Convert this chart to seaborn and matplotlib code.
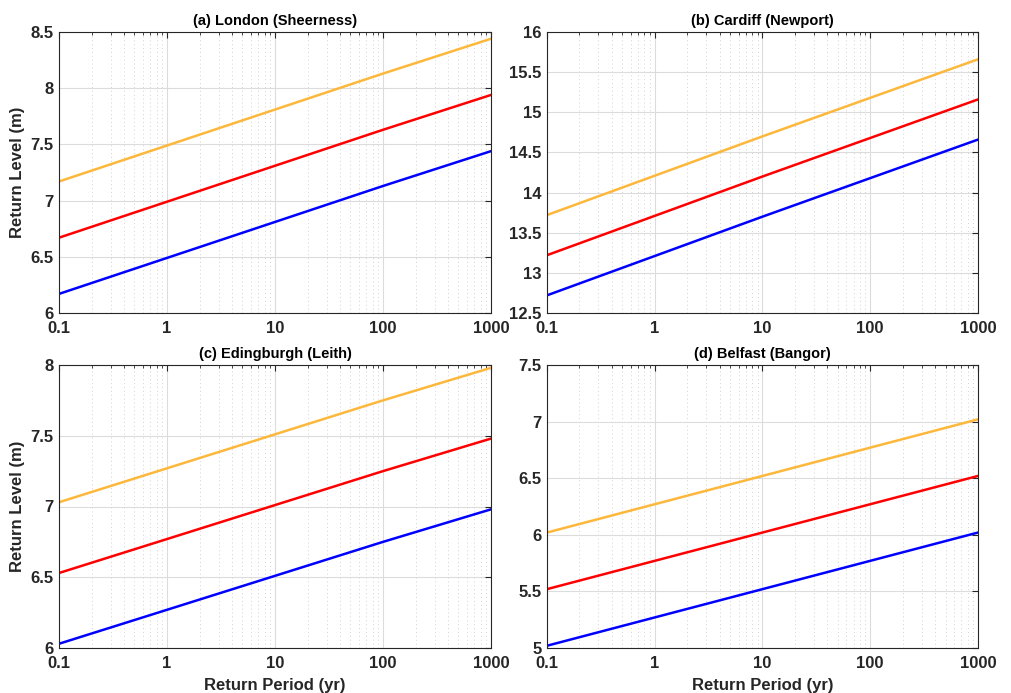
import numpy as np
import pandas as pd
import matplotlib
matplotlib.use("Agg")
import matplotlib.pyplot as plt
import matplotlib.ticker as mticker
import seaborn as sns

# ---- data ----
return_period = [0.1, 1, 10, 100, 1000]

titles = ["(a) London (Sheerness)", "(b) Cardiff (Newport)",
          "(c) Edingburgh (Leith)", "(d) Belfast (Bangor)"]

london_blue = [6.17, 6.49, 6.81, 7.13, 7.44]
london_red = [6.67, 6.99, 7.31, 7.63, 7.94]
london_orange = [7.17, 7.49, 7.81, 8.13, 8.44]

cardiff_blue = [12.72, 13.21, 13.70, 14.18, 14.66]
cardiff_red = [13.22, 13.71, 14.20, 14.68, 15.16]
cardiff_orange = [13.72, 14.21, 14.70, 15.18, 15.66]

edinburgh_blue = [6.03, 6.27, 6.51, 6.75, 6.98]
edinburgh_red = [6.53, 6.77, 7.01, 7.25, 7.48]
edinburgh_orange = [7.03, 7.27, 7.51, 7.75, 7.98]

belfast_blue = [5.02, 5.27, 5.52, 5.77, 6.02]
belfast_red = [5.52, 5.77, 6.02, 6.27, 6.52]
belfast_orange = [6.02, 6.27, 6.52, 6.77, 7.02]

series = [
    (london_blue, london_red, london_orange),
    (cardiff_blue, cardiff_red, cardiff_orange),
    (edinburgh_blue, edinburgh_red, edinburgh_orange),
    (belfast_blue, belfast_red, belfast_orange),
]
ylims = [(6, 8.5), (12.5, 16), (6, 8), (5, 7.5)]
yticks = [
    [6, 6.5, 7, 7.5, 8, 8.5],
    [12.5, 13, 13.5, 14, 14.5, 15, 15.5, 16],
    [6, 6.5, 7, 7.5, 8],
    [5, 5.5, 6, 6.5, 7, 7.5],
]
ytick_labels = [
    ["6", "6.5", "7", "7.5", "8", "8.5"],
    ["12.5", "13", "13.5", "14", "14.5", "15", "15.5", "16"],
    ["6", "6.5", "7", "7.5", "8"],
    ["5", "5.5", "6", "6.5", "7", "7.5"],
]
xticks = [0.1, 1, 10, 100, 1000]
xtick_labels = ["0.1", "1", "10", "100", "1000"]
colors = ["#0000FF", "#FF0000", "#FDB83C"]

sns.set_theme(style="white")
plt.rcParams["font.family"] = ["Liberation Sans", "DejaVu Sans"]
plt.rcParams["font.weight"] = "bold"

fig = plt.figure(figsize=(10.12, 6.93), dpi=100)
W, H = 1012, 693
boxes = [(59, 32, 491, 313), (547, 32, 978, 313),
         (59, 365, 491, 648), (547, 365, 978, 648)]

edge = "#262626"
for i, (l, t, r, b) in enumerate(boxes):
    ax = fig.add_axes([l / W, 1 - b / H, (r - l) / W, (b - t) / H])
    for vals, c in zip(series[i], colors):
        df = pd.DataFrame({"x": return_period, "y": vals})
        sns.lineplot(data=df, x="x", y="y", ax=ax, color=c, linewidth=1.8)
    ax.set_xscale("log")
    ax.set_xlim(0.1, 1000)
    ax.set_ylim(*ylims[i])
    ax.set_xticks(xticks)
    ax.set_xticklabels(xtick_labels)
    ax.xaxis.set_minor_locator(mticker.LogLocator(base=10, subs=np.arange(2, 10)))
    ax.xaxis.set_minor_formatter(mticker.NullFormatter())
    ax.set_yticks(yticks[i])
    ax.set_yticklabels(ytick_labels[i])
    ax.grid(True, which="major", color="#dcdcdc", linewidth=0.8, linestyle="-")
    ax.grid(True, which="minor", axis="x", color="#d2d2d2", linewidth=0.7, linestyle=(0, (1, 3)))
    ax.set_axisbelow(True)
    ax.tick_params(which="both", direction="in", top=True, right=True,
                   colors=edge, labelcolor=edge)
    ax.tick_params(which="major", length=4, width=0.8, labelsize=12)
    ax.tick_params(axis="x", which="major", pad=6)
    ax.tick_params(axis="y", which="major", pad=4)
    ax.tick_params(which="minor", length=2, width=0.6)
    for lab in ax.get_xticklabels() + ax.get_yticklabels():
        lab.set_fontweight("bold")
    for sp in ax.spines.values():
        sp.set_color(edge)
        sp.set_linewidth(0.8)
        sp.set_visible(True)
    ax.set_title(titles[i], fontsize=10.5, fontweight="bold", color="black", pad=5)
    if i in (0, 2):
        ax.set_ylabel("Return Level (m)", fontsize=12, fontweight="bold", color=edge, labelpad=4)
    else:
        ax.set_ylabel("")
    if i in (2, 3):
        ax.set_xlabel("Return Period (yr)", fontsize=12, fontweight="bold", color=edge, labelpad=5)
    else:
        ax.set_xlabel("")

fig.savefig("out.png", dpi=100, facecolor="white")
